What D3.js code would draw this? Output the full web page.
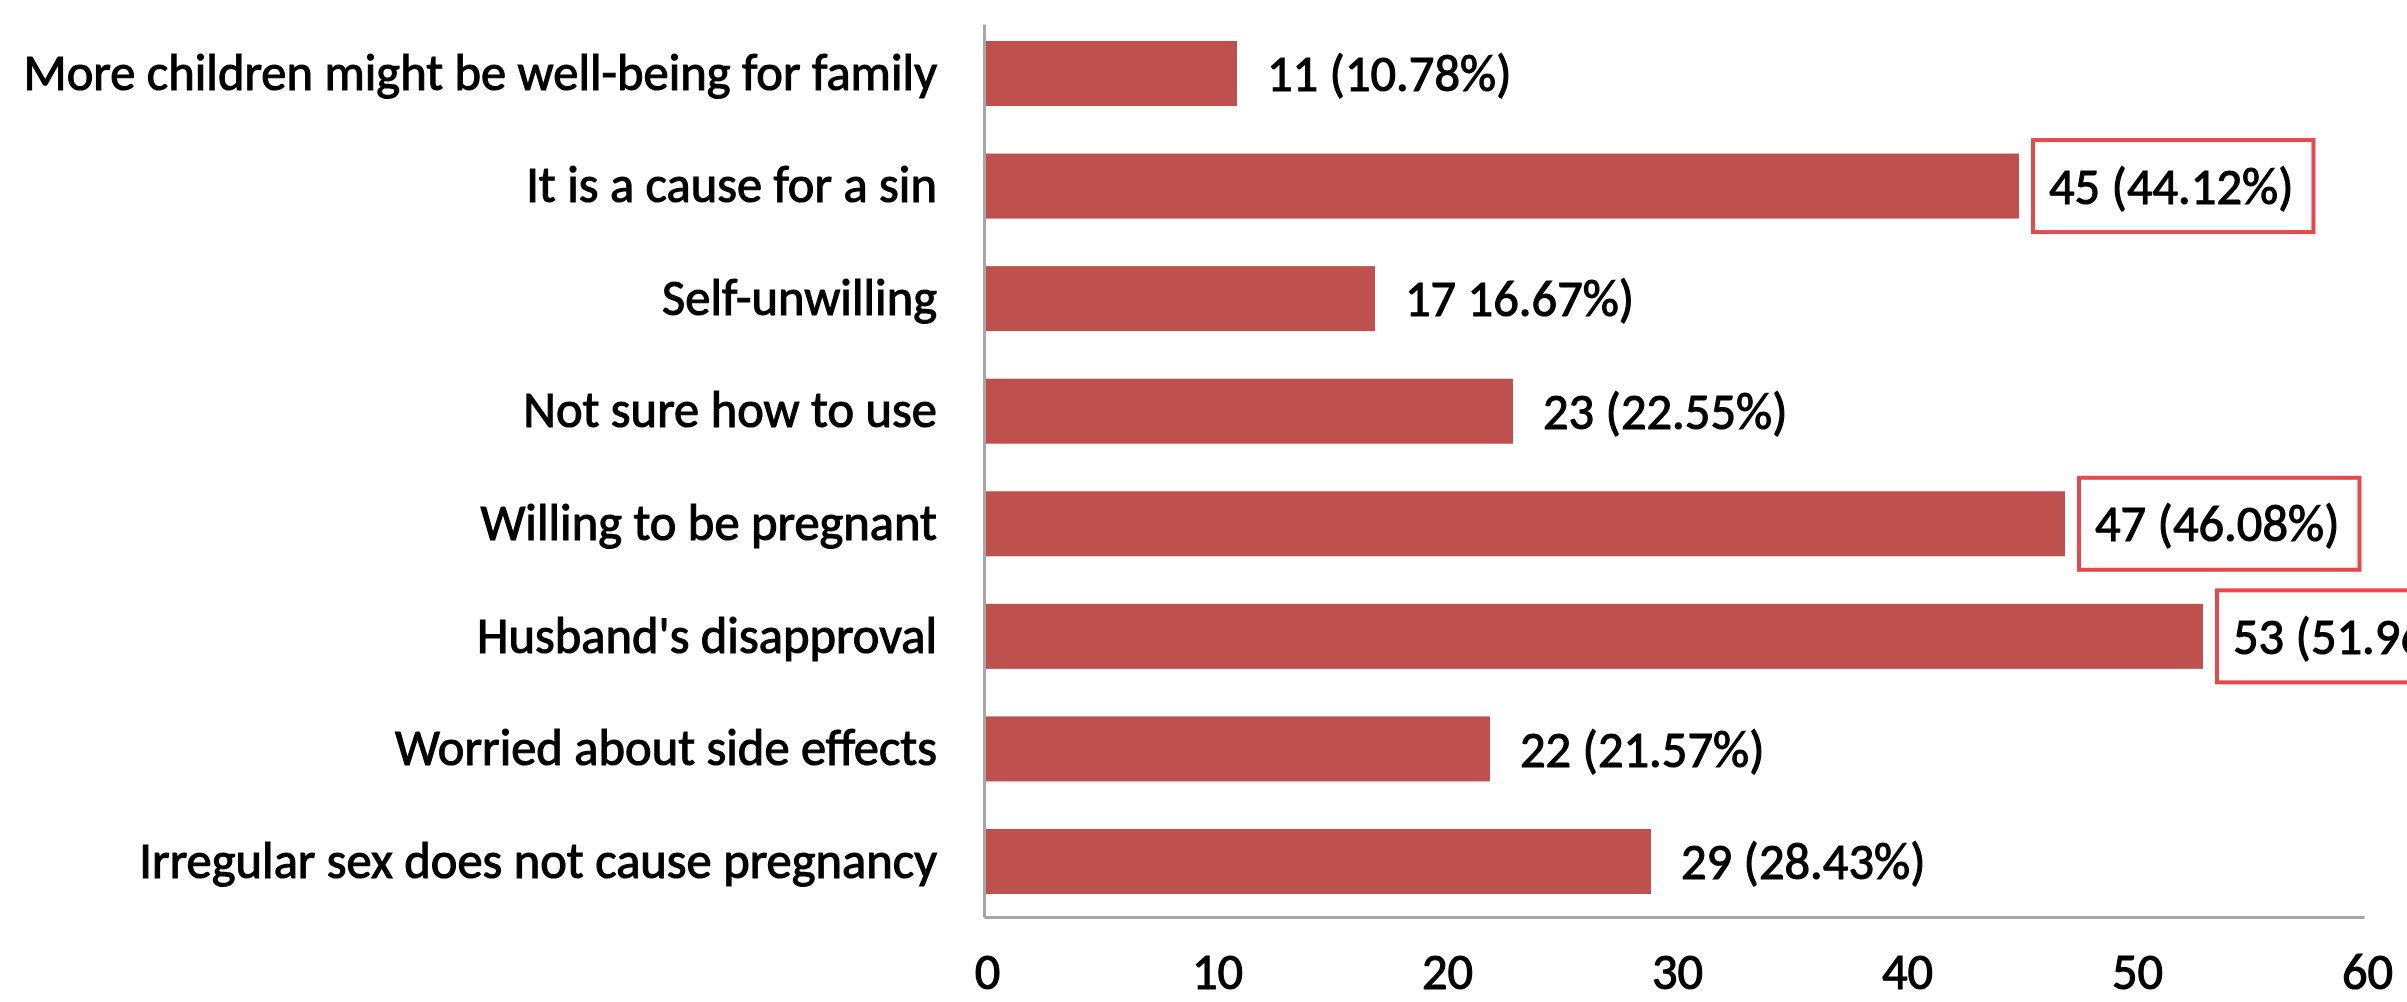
<!DOCTYPE html>
<html>
<head>
<meta charset="utf-8">
<script src="https://cdn.jsdelivr.net/npm/d3@7"></script>
<style>
  html, body { margin: 0; padding: 0; background: #ffffff; overflow: hidden; }
  svg { display: block; }
  text { font-family: Carlito, Lato, "Open Sans", sans-serif; fill: #000; }
</style>
</head>
<body>
<script>
// ---- data ----
const categories = [
  "More children might be well-being for family",
  "It is a cause for a sin",
  "Self-unwilling",
  "Not sure how to use",
  "Willing to be pregnant",
  "Husband's disapproval",
  "Worried about side effects",
  "Irregular sex does not cause pregnancy"
];
const counts = [11, 45, 17, 23, 47, 53, 22, 29];
const valueLabels = [
  "11 (10.78%)", "45 (44.12%)", "17 16.67%)", "23 (22.55%)",
  "47 (46.08%)", "53 (51.96%)", "22 (21.57%)", "29 (28.43%)"
];
const highlighted = [false, true, false, false, true, true, false, false];
const xTicks = [0, 10, 20, 30, 40, 50, 60];

// ---- layout ----
const W = 2407, H = 1002;
const FONT = 50.5;
const FAM = "Carlito, Lato, 'Open Sans', sans-serif";
const svg = d3.select("body").append("svg").attr("width", W).attr("height", H);

const x = d3.scaleLinear().domain([0, 60]).range([984, 2364]);
const y = d3.scaleBand().domain(categories).range([24, 917])
  .paddingInner(0.4226).paddingOuter(0.1777).align(0.425);

const rows = categories.map((c, i) => ({
  cat: c, v: counts[i], label: valueLabels[i], hi: highlighted[i]
}));

// bars
svg.append("g").selectAll("rect").data(rows).join("rect")
  .attr("x", x(0))
  .attr("y", d => y(d.cat))
  .attr("width", d => x(d.v) - x(0))
  .attr("height", y.bandwidth())
  .attr("fill", "#be504d");

// y axis
const yAxis = svg.append("g")
  .attr("transform", `translate(${x(0)},0)`)
  .call(d3.axisLeft(y).tickSize(0).tickPadding(47));
yAxis.select(".domain").attr("stroke", "#a6a6a6").attr("stroke-width", 3);
yAxis.selectAll("text")
  .attr("font-size", FONT)
  .attr("fill", "#000")
  .attr("stroke", "#000").attr("stroke-width", 1.1)
  .style("font-family", FAM);

// x axis
const xAxis = svg.append("g")
  .attr("transform", `translate(0,${y.range()[1]})`)
  .call(d3.axisBottom(x).tickValues(xTicks).tickSize(0).tickFormat(d3.format("d")));
xAxis.select(".domain").attr("stroke", "#a6a6a6").attr("stroke-width", 3);
xAxis.selectAll("text")
  .attr("font-size", FONT)
  .attr("y", 72).attr("dy", 0)
  .attr("dx", 3)
  .attr("fill", "#000")
  .attr("stroke", "#000").attr("stroke-width", 1.1)
  .style("font-family", FAM);

// value labels
const lab = svg.append("g").selectAll("g").data(rows).join("g");
lab.append("text")
  .attr("x", d => x(d.v) + 30)
  .attr("y", d => y(d.cat) + y.bandwidth() / 2)
  .attr("dy", "0.35em")
  .attr("font-size", FONT)
  .attr("stroke", "#000").attr("stroke-width", 1.1)
  .style("font-family", FAM)
  .text(d => d.label);

// highlight boxes
lab.each(function(d) {
  if (!d.hi) return;
  const t = d3.select(this).select("text").node();
  const len = t.getComputedTextLength();
  const cy = y(d.cat) + y.bandwidth() / 2;
  d3.select(this).insert("rect", "text")
    .attr("x", x(d.v) + 14)
    .attr("y", cy - 46)
    .attr("width", len + 16 + 20)
    .attr("height", 92)
    .attr("fill", "#ffffff")
    .attr("stroke", "#e8484b")
    .attr("stroke-width", 4);
});
</script>
</body>
</html>
